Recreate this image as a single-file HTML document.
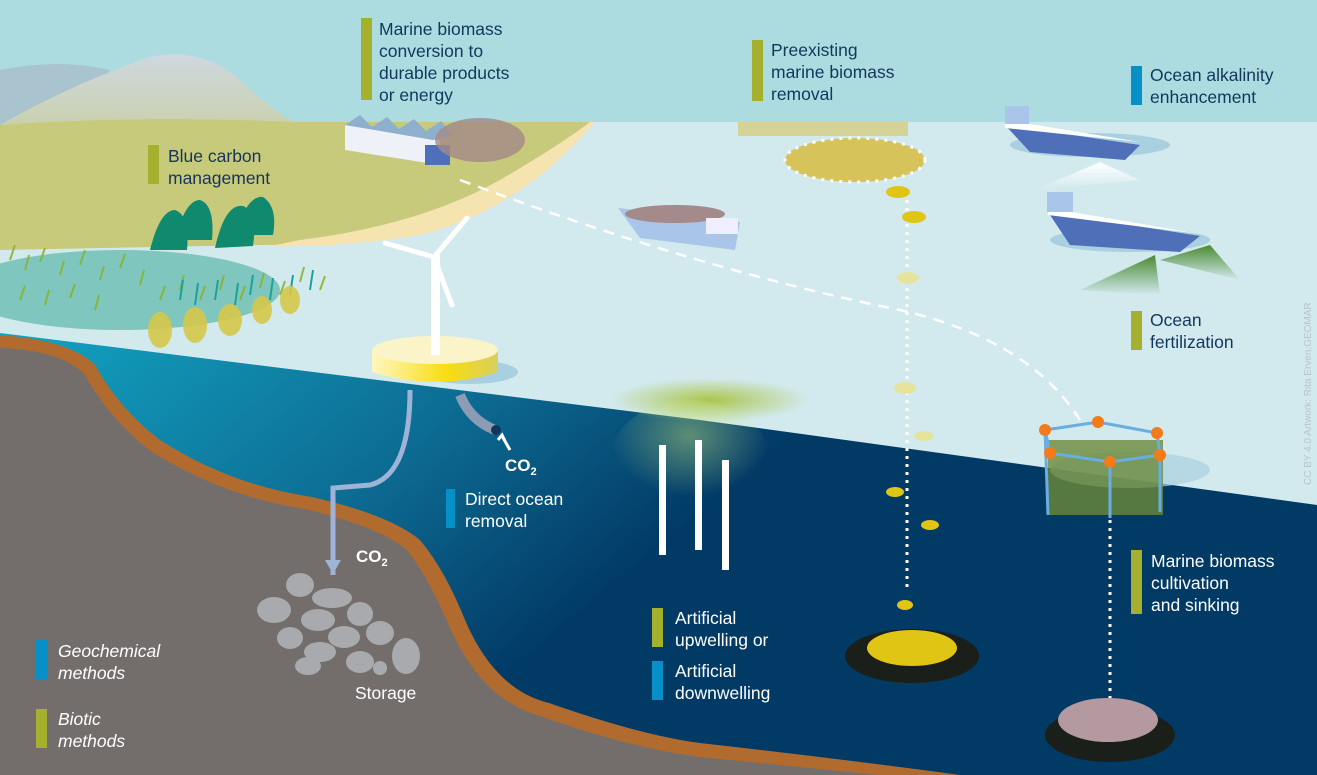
<!DOCTYPE html>
<html><head><meta charset="utf-8"><style>
html,body{margin:0;padding:0;width:1317px;height:775px;overflow:hidden;background:#acdcdf}
svg{display:block}
text{font-family:"Liberation Sans",sans-serif}
.l{fill:#14365e;font-size:17.5px}
.w{fill:#fff;font-size:17.5px}
</style></head><body>
<svg width="1317" height="775" viewBox="0 0 1317 775" xmlns="http://www.w3.org/2000/svg">
<defs>
<linearGradient id="sea" x1="0" y1="0" x2="1" y2="0.4">
<stop offset="0" stop-color="#12a4c2"/><stop offset="0.35" stop-color="#0d6d94"/><stop offset="0.6" stop-color="#023a66"/><stop offset="1" stop-color="#023a66"/></linearGradient>
<linearGradient id="mtn" x1="0" y1="0" x2="0" y2="1"><stop offset="0" stop-color="#cfd8e0"/><stop offset="1" stop-color="#c5c97c"/></linearGradient>
<radialGradient id="glow" cx="0.5" cy="0.5" r="0.5"><stop offset="0" stop-color="#a7c23a" stop-opacity="0.9"/><stop offset="1" stop-color="#a7c23a" stop-opacity="0"/></radialGradient>
<radialGradient id="glow2" cx="0.5" cy="0.3" r="0.5"><stop offset="0" stop-color="#c8e27a" stop-opacity="0.45"/><stop offset="1" stop-color="#c8e27a" stop-opacity="0"/></radialGradient>
<linearGradient id="buoy" x1="0" y1="0" x2="1" y2="0"><stop offset="0" stop-color="#fff7c0"/><stop offset="0.6" stop-color="#f8dd10"/><stop offset="1" stop-color="#d8cf60"/></linearGradient>
<linearGradient id="plume" x1="0" y1="0" x2="0" y2="1"><stop offset="0" stop-color="#4a8a30"/><stop offset="1" stop-color="#4a8a30" stop-opacity="0"/></linearGradient>
<linearGradient id="wplume" x1="0" y1="0" x2="0" y2="1"><stop offset="0" stop-color="#fff"/><stop offset="1" stop-color="#fff" stop-opacity="0"/></linearGradient>
</defs>
<rect width="1317" height="123" fill="#acdcdf"/>
<rect y="122" width="1317" height="653" fill="#d2eaee"/>
<!-- mountains -->
<path d="M0,70 Q60,58 110,70 L80,120 L0,130Z" fill="#a9c3cf"/>
<path d="M0,125 Q70,85 150,57 Q205,45 245,85 Q275,112 295,123 L0,200Z" fill="url(#mtn)"/>
<!-- land -->
<path d="M0,125 Q150,115 290,122 L595,122 Q520,200 420,230 Q340,245 260,245 L0,250Z" fill="#c7c97b"/>
<path d="M595,122 Q520,210 420,235 Q340,248 270,246 L300,240 Q420,225 500,180 Q560,145 590,122Z" fill="#f5e4b0"/>
<ellipse cx="120" cy="290" rx="160" ry="40" fill="#7fc6bf"/>
<g stroke="#8ab42e" stroke-width="2" opacity="0.9">
<path d="M10,260 l5,-15 M25,270 l4,-15 M40,262 l5,-14 M60,275 l4,-14 M80,265 l5,-15 M100,280 l4,-14 M120,268 l5,-14 M140,285 l4,-15 M20,300 l5,-14 M45,305 l4,-15 M70,298 l5,-14 M95,310 l4,-15 M160,300 l5,-14 M180,290 l4,-15 M200,300 l5,-14 M220,290 l4,-15 M240,300 l5,-14 M260,288 l4,-15 M280,295 l5,-14 M300,282 l4,-15 M320,290 l5,-14"/>
</g>
<g stroke="#1aa39a" stroke-width="2"><path d="M180,300 l3,-20 M195,305 l3,-22 M215,300 l3,-20 M235,305 l3,-22 M250,295 l3,-20 M270,300 l3,-22 M290,295 l3,-20 M310,290 l3,-20"/></g>
<g fill="#0f8a6e"><path d="M150,250 q10,-40 25,-40 q15,5 12,40Z"/><path d="M175,240 q10,-40 25,-40 q15,5 12,40Z"/><path d="M215,248 q10,-45 28,-42 q15,5 10,40Z"/><path d="M235,235 q12,-40 28,-38 q15,10 10,38Z"/></g>
<g fill="#d6c84a" opacity="0.9"><ellipse cx="160" cy="330" rx="12" ry="18"/><ellipse cx="195" cy="325" rx="12" ry="18"/><ellipse cx="230" cy="320" rx="12" ry="16"/><ellipse cx="262" cy="310" rx="10" ry="14"/><ellipse cx="290" cy="300" rx="10" ry="14"/></g>
<!-- factory -->
<path d="M345,125 L440,140 L440,165 L345,150Z" fill="#eef2f8"/>
<path d="M345,125 l15,-10 l12,12 l15,-10 l12,12 l15,-10 l12,12 l15,-10 l12,14 l-20,5 Z" fill="#8fb0cc"/>
<rect x="425" y="145" width="25" height="20" fill="#4f6fb8"/>
<ellipse cx="480" cy="140" rx="45" ry="22" fill="#a48a8a" opacity="0.8"/>
<!-- sea dark region -->
<path d="M0,333 L700,420 L1317,505 L1317,775 L0,775Z" fill="url(#sea)"/>
<path d="M0,335 Q70,340 95,365 Q120,410 160,440 Q230,485 312,497 Q390,515 420,540 Q445,570 465,620 Q495,690 549,703 Q640,735 700,743 Q850,760 960,775 L0,775Z" fill="#b26b2e"/>
<path d="M0,348 Q62,350 85,375 Q110,420 152,452 Q225,497 305,509 Q380,527 407,550 Q430,580 450,628 Q482,700 540,716 Q630,748 700,757 Q790,766 880,775 L0,775Z" fill="#736e6b"/>
<ellipse cx="710" cy="400" rx="100" ry="22" fill="url(#glow)"/>
<ellipse cx="690" cy="460" rx="80" ry="60" fill="url(#glow2)"/>
<g fill="#fff"><rect x="659" y="445" width="7" height="110"/><rect x="695" y="440" width="7" height="110"/><rect x="722" y="460" width="7" height="110"/></g>
<!-- wind turbine -->
<ellipse cx="470" cy="372" rx="48" ry="12" fill="#a9d0e0"/>
<path d="M372,350 L372,372 Q435,392 498,372 L498,350Z" fill="url(#buoy)"/>
<ellipse cx="435" cy="350" rx="63" ry="14" fill="#fbf4c8"/>
<rect x="431" y="255" width="9" height="100" fill="#fff"/>
<path d="M434,257 L385,243 M434,257 L467,218 M434,257 L452,305" stroke="#fff" stroke-width="5" stroke-linecap="round"/>
<path d="M410,390 Q410,475 370,485 L333,488 L333,575" stroke="#9fb3d6" stroke-width="5" fill="none"/>
<path d="M325,560 l8,14 l8,-14Z" fill="#9fb3d6"/>
<path d="M460,395 Q470,420 495,430" stroke="#8c9cb4" stroke-width="10" fill="none"/>
<circle cx="496" cy="430" r="5" fill="#12355c"/>
<path d="M510,450 L502,436 M498,440 l4,-5 l3,6" stroke="#fff" stroke-width="3" fill="none"/>
<g fill="#a8aaad"><ellipse cx="300" cy="585" rx="14" ry="12"/><ellipse cx="332" cy="598" rx="20" ry="10"/><ellipse cx="274" cy="610" rx="17" ry="13"/><ellipse cx="318" cy="620" rx="17" ry="11"/><ellipse cx="360" cy="614" rx="13" ry="12"/><ellipse cx="380" cy="633" rx="14" ry="12"/><ellipse cx="344" cy="637" rx="16" ry="11"/><ellipse cx="290" cy="638" rx="13" ry="11"/><ellipse cx="320" cy="652" rx="16" ry="10"/><ellipse cx="360" cy="662" rx="14" ry="11"/><ellipse cx="406" cy="656" rx="14" ry="18"/><ellipse cx="308" cy="666" rx="13" ry="9"/><ellipse cx="380" cy="668" rx="7" ry="7"/></g>
<path d="M460,180 Q700,270 900,310 Q1030,340 1080,420" stroke="#fff" stroke-width="2.5" stroke-dasharray="11,8" fill="none"/>
<path d="M907,200 L907,590" stroke="#fff" stroke-width="3" stroke-dasharray="3,5" fill="none"/>
<path d="M1110,520 L1110,700" stroke="#fff" stroke-width="3" stroke-dasharray="3,5" fill="none"/>
<ellipse cx="855" cy="160" rx="70" ry="22" fill="#d6c35a" stroke="#fff" stroke-width="3" stroke-dasharray="3,6"/>
<rect x="738" y="122" width="170" height="14" fill="#d6c35a" opacity="0.6"/>
<g fill="#e1c514"><ellipse cx="898" cy="192" rx="12" ry="6"/><ellipse cx="914" cy="217" rx="12" ry="6"/><ellipse cx="905" cy="605" rx="8" ry="5"/><ellipse cx="895" cy="492" rx="9" ry="5"/><ellipse cx="930" cy="525" rx="9" ry="5"/></g>
<g fill="#e6e39c"><ellipse cx="908" cy="278" rx="11" ry="6"/><ellipse cx="905" cy="388" rx="11" ry="6"/><ellipse cx="924" cy="436" rx="10" ry="5"/></g>
<ellipse cx="912" cy="656" rx="67" ry="27" fill="#1b1f1a"/>
<ellipse cx="912" cy="648" rx="45" ry="18" fill="#e1c514"/>
<ellipse cx="1110" cy="735" rx="65" ry="27" fill="#1b1f1a"/>
<ellipse cx="1108" cy="720" rx="50" ry="22" fill="#b49aa0"/>
<!-- boat near land -->
<path d="M618,208 L740,222 L735,250 L640,238Z" fill="#a9c5ea"/>
<ellipse cx="675" cy="214" rx="50" ry="9" fill="#a48a8a"/>
<rect x="706" y="218" width="32" height="16" fill="#eef"/>
<!-- ships -->
<ellipse cx="1090" cy="145" rx="80" ry="12" fill="#a9d0e0"/>
<path d="M1005,125 L1140,145 L1125,160 L1030,152Z" fill="#4f6fb8"/>
<path d="M1005,120 L1140,142 L1005,128Z" fill="#fff"/>
<rect x="1005" y="106" width="24" height="18" fill="#a9c5ea"/>
<path d="M1035,190 L1100,162 L1140,180Z" fill="url(#wplume)"/>
<ellipse cx="1130" cy="240" rx="80" ry="12" fill="#a9d0e0"/>
<path d="M1048,212 L1200,236 L1180,252 L1070,245Z" fill="#4f6fb8"/>
<path d="M1048,208 L1200,234 L1048,215Z" fill="#fff"/>
<rect x="1047" y="192" width="26" height="20" fill="#a9c5ea"/>
<path d="M1080,290 L1155,255 L1160,295Z" fill="url(#plume)"/>
<path d="M1160,260 L1210,245 L1240,280Z" fill="url(#plume)"/>
<!-- cage -->
<ellipse cx="1130" cy="470" rx="80" ry="18" fill="#a9d0e0" opacity="0.7"/>
<rect x="1048" y="440" width="115" height="75" fill="#6b8a3a" opacity="0.8"/>
<path d="M1045,430 L1098,422 L1157,433 L1160,455 L1110,462 L1050,453Z M1045,430 L1048,515 M1110,462 L1110,518 M1160,455 L1160,512" stroke="#6aaee0" stroke-width="3" fill="none"/>
<g fill="#f47a1a"><circle cx="1045" cy="430" r="6"/><circle cx="1098" cy="422" r="6"/><circle cx="1157" cy="433" r="6"/><circle cx="1050" cy="453" r="6"/><circle cx="1110" cy="462" r="6"/><circle cx="1160" cy="455" r="6"/></g>
<!-- labels -->
<rect x="361" y="18" width="11" height="82" fill="#a4b02e"/>
<text class="l" x="379" y="35">Marine biomass</text><text class="l" x="379" y="57">conversion to</text><text class="l" x="379" y="79">durable products</text><text class="l" x="379" y="101">or energy</text>
<rect x="752" y="40" width="11" height="61" fill="#a4b02e"/>
<text class="l" x="771" y="56">Preexisting</text><text class="l" x="771" y="78">marine biomass</text><text class="l" x="771" y="100">removal</text>
<rect x="1131" y="66" width="11" height="39" fill="#0790c8"/>
<text class="l" x="1150" y="81">Ocean alkalinity</text><text class="l" x="1150" y="103">enhancement</text>
<rect x="148" y="145" width="11" height="39" fill="#a4b02e"/>
<text class="l" x="168" y="162">Blue carbon</text><text class="l" x="168" y="184">management</text>
<rect x="1131" y="311" width="11" height="39" fill="#a4b02e"/>
<text class="l" x="1150" y="326">Ocean</text><text class="l" x="1150" y="348">fertilization</text>
<rect x="446" y="489" width="9" height="39" fill="#0790c8"/>
<text class="w" x="465" y="505">Direct ocean</text><text class="w" x="465" y="527">removal</text>
<text x="505" y="471" fill="#fff" font-size="17" font-weight="bold" font-family="Liberation Sans">CO<tspan font-size="11" dy="4">2</tspan></text>
<text x="356" y="562" fill="#fff" font-size="17" font-weight="bold" font-family="Liberation Sans">CO<tspan font-size="11" dy="4">2</tspan></text>
<text class="w" x="355" y="699">Storage</text>
<rect x="1131" y="550" width="11" height="64" fill="#a4b02e"/>
<text class="w" x="1151" y="567">Marine biomass</text><text class="w" x="1151" y="589">cultivation</text><text class="w" x="1151" y="611">and sinking</text>
<rect x="652" y="608" width="11" height="39" fill="#a4b02e"/>
<text class="w" x="675" y="624">Artificial</text><text class="w" x="675" y="646">upwelling or</text>
<rect x="652" y="661" width="11" height="39" fill="#0790c8"/>
<text class="w" x="675" y="677">Artificial</text><text class="w" x="675" y="699">downwelling</text>
<rect x="36" y="640" width="11" height="39" fill="#0790c8"/>
<text class="w" x="58" y="657" font-style="italic">Geochemical</text><text class="w" x="58" y="679" font-style="italic">methods</text>
<rect x="36" y="709" width="11" height="39" fill="#a4b02e"/>
<text class="w" x="58" y="725" font-style="italic">Biotic</text><text class="w" x="58" y="747" font-style="italic">methods</text>
<text x="0" y="0" transform="translate(1311,485) rotate(-90)" fill="#b8c4c8" font-size="10" font-family="Liberation Sans">CC BY 4.0  Artwork: Rita Erven,GEOMAR</text>
</svg>
</body></html>
